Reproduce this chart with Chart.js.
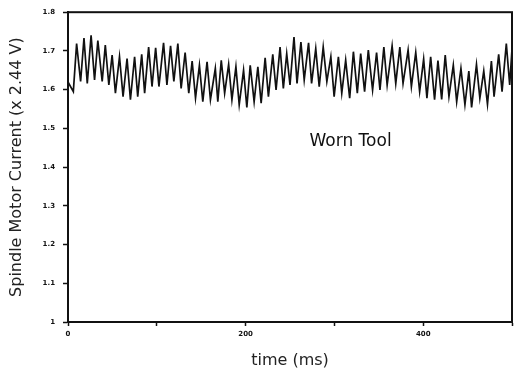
<!DOCTYPE html>
<html>
<head>
<meta charset="utf-8">
<script src="https://cdn.jsdelivr.net/npm/chart.js@4"></script>
<style>
  html, body { margin: 0; padding: 0; background: #fff; }
  canvas { display: block; }
</style>
</head>
<body>
<canvas id="spindle" width="516" height="372"></canvas>
<script>
// time (ms) of each turning point of the trace
var time = [0,
  6.0, 9.7, 14.2, 18.0, 21.7, 26.0, 29.9, 33.6, 38.5, 42.0,
  46.0, 49.7, 53.4, 58.0, 62.0, 66.5, 70.3, 75.0, 78.5, 83.0,
  86.3, 90.8, 94.6, 98.7, 102.4, 107.6, 111.4, 115.5, 119.2, 123.7,
  127.4, 131.9, 136.0, 139.8, 143.6, 148.0, 151.8, 156.6, 160.4, 165.9,
  168.7, 172.6, 176.4, 180.9, 184.6, 189.1, 192.8, 197.7, 201.4, 205.2,
  209.6, 213.8, 217.5, 222.0, 225.7, 230.6, 234.3, 238.8, 242.5, 246.3,
  250.0, 254.5, 257.9, 262.3, 266.0, 270.9, 274.3, 279.0, 282.9, 287.4,
  291.5, 296.0, 299.7, 304.5, 308.3, 312.7, 317.2, 321.4, 325.8, 329.6,
  334.0, 338.2, 343.0, 347.5, 351.3, 355.7, 359.4, 365.0, 369.1, 373.7,
  377.3, 383.0, 386.7, 391.6, 396.0, 400.5, 404.2, 408.4, 412.8, 416.6,
  420.8, 424.8, 429.0, 433.9, 437.7, 442.5, 447.0, 451.4, 454.5, 460.0,
  463.8, 468.2, 472.4, 476.8, 479.8, 485.0, 488.8, 493.6, 497.4, 500
];

// spindle motor current (x 2.44 V) at those times
var current = [1.62,
  1.595, 1.719, 1.621, 1.733, 1.616, 1.740, 1.625, 1.727, 1.621, 1.715,
  1.612, 1.689, 1.591, 1.685, 1.582, 1.680, 1.574, 1.685, 1.582, 1.691,
  1.591, 1.710, 1.608, 1.708, 1.608, 1.721, 1.612, 1.713, 1.621, 1.719,
  1.603, 1.696, 1.591, 1.674, 1.578, 1.663, 1.569, 1.672, 1.574, 1.655,
  1.569, 1.676, 1.591, 1.665, 1.574, 1.659, 1.561, 1.650, 1.554, 1.663,
  1.569, 1.659, 1.565, 1.682, 1.582, 1.691, 1.599, 1.710, 1.603, 1.693,
  1.612, 1.736, 1.616, 1.723, 1.625, 1.721, 1.616, 1.706, 1.608, 1.710,
  1.621, 1.685, 1.582, 1.685, 1.591, 1.676, 1.578, 1.698, 1.591, 1.693,
  1.595, 1.702, 1.599, 1.696, 1.599, 1.710, 1.612, 1.713, 1.616, 1.710,
  1.616, 1.702, 1.608, 1.696, 1.595, 1.679, 1.578, 1.685, 1.574, 1.675,
  1.575, 1.689, 1.582, 1.663, 1.569, 1.655, 1.561, 1.648, 1.554, 1.665,
  1.578, 1.648, 1.562, 1.674, 1.582, 1.691, 1.595, 1.719, 1.612, 1.705
];

var xTicks = [0, 200, 400];
var noteText = 'Worn Tool';
var noteAt = [272, 1.465];

var points = time.map(function (t, i) { return { x: t, y: current[i] }; });

// box round the plot plus the text label
var framePlugin = {
  id: 'frame',
  afterDraw: function (chart) {
    var c = chart.ctx, a = chart.chartArea;
    c.save();
    c.strokeStyle = '#111';
    c.lineWidth = 2;
    c.strokeRect(a.left, a.top, a.right - a.left, a.bottom - a.top);
    c.fillStyle = '#111';
    c.font = '17px "DejaVu Sans"';
    c.textBaseline = 'middle';
    c.fillText(noteText, chart.scales.x.getPixelForValue(noteAt[0]), chart.scales.y.getPixelForValue(noteAt[1]));
    c.restore();
  }
};

var chart = new Chart(document.getElementById('spindle').getContext('2d'), {
  type: 'line',
  data: {
    datasets: [{
      data: points,
      borderColor: '#111',
      borderWidth: 1.7,
      pointRadius: 0,
      tension: 0,
      fill: false
    }]
  },
  options: {
    responsive: false,
    animation: false,
    layout: { padding: { top: 10, right: 2, left: 0, bottom: 0 } },
    plugins: { legend: { display: false }, tooltip: { enabled: false } },
    scales: {
      x: {
        type: 'linear',
        min: 0,
        max: 500,
        afterFit: function (s) { s.height = 50; },
        ticks: {
          stepSize: 100,
          autoSkip: false,
          maxRotation: 0,
          padding: 4,
          color: '#111',
          font: { family: 'DejaVu Sans', size: 7, weight: 'bold' },
          callback: function (v) { return xTicks.indexOf(v) >= 0 ? String(v) : ''; }
        },
        grid: { drawOnChartArea: false, tickLength: 4, tickColor: '#111', tickWidth: 1.5 },
        border: { color: '#111', width: 2 },
        title: {
          display: true,
          text: 'time (ms)',
          color: '#222',
          font: { family: 'DejaVu Sans', size: 16 },
          padding: { top: 0, bottom: 2 }
        }
      },
      y: {
        min: 1,
        max: 1.8,
        afterFit: function (s) { s.width = 68; },
        ticks: {
          stepSize: 0.1,
          padding: 8,
          color: '#111',
          font: { family: 'DejaVu Sans', size: 7, weight: 'bold' },
          callback: function (v) { return String(Number(v.toFixed(1))); }
        },
        grid: { drawOnChartArea: false, tickLength: 5, tickColor: '#111', tickWidth: 1.5 },
        border: { color: '#111', width: 2 },
        title: {
          display: true,
          text: 'Spindle Motor Current (x 2.44 V)',
          color: '#222',
          font: { family: 'DejaVu Sans', size: 16 },
          padding: { top: 7, bottom: 0 }
        }
      }
    }
  },
  plugins: [framePlugin]
});
</script>
</body>
</html>
